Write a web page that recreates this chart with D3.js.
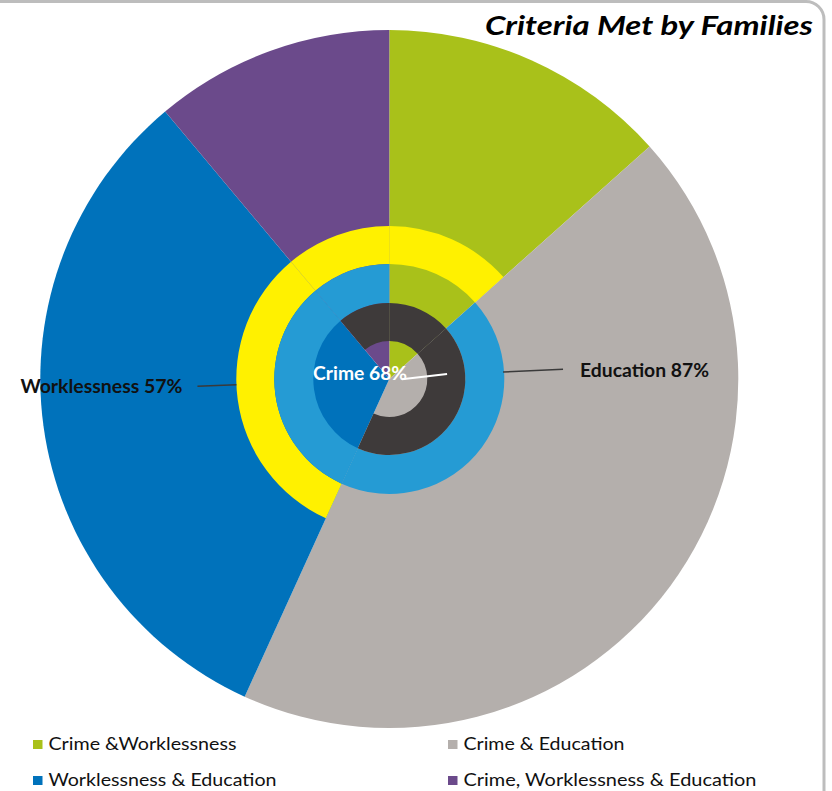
<!DOCTYPE html>
<html>
<head>
<meta charset="utf-8">
<script src="https://cdn.jsdelivr.net/npm/d3@7"></script>
<style>
  html, body { margin: 0; padding: 0; background: #fff; }
  svg { display: block; }
  text { font-family: Lato, "Open Sans", sans-serif; }
</style>
</head>
<body>
<svg id="chart" width="832" height="791"></svg>
<script>
// Share of families (%) by the combination of criteria they meet
const groups = ["Crime &Worklessness", "Crime & Education", "Worklessness & Education", "Crime, Worklessness & Education"];
const shares = [13.4, 43.4, 32.1, 11.1];

// Which criteria each group includes
const meetsWorklessness = [true, false, true, true];
const meetsEducation    = [false, true, true, true];
const meetsCrime        = [true, true, false, true];

const criteria = ["Worklessness", "Education", "Crime"];
const title = "Criteria Met by Families";

// ---- styling / layout ----
const groupColors = ["#a9c11a", "#b4afac", "#0072bb", "#6b4a8b"];
const ringStyles = [
  { member: meetsWorklessness, color: "#fff100", r0: 115, r1: 153 },
  { member: meetsEducation,    color: "#259bd4", r0: 76,  r1: 115 },
  { member: meetsCrime,        color: "#3e3a3a", r0: 38,  r1: 76 }
];
const cx = 389.3, cy = 379, R = 349;
const deg = Math.PI / 180;

const svg = d3.select("#chart");

// frame
svg.append("rect")
  .attr("x", -30).attr("y", 1.5)
  .attr("width", 854).attr("height", 900)
  .attr("rx", 18).attr("ry", 18)
  .attr("fill", "#fff")
  .attr("stroke", "#bdbdbd").attr("stroke-width", 3);

const g = svg.append("g").attr("transform", `translate(${cx},${cy})`);

const pie = d3.pie().sort(null).value(d => d);
const slices = pie(shares);

// outer pie: one wedge per group
g.append("g").selectAll("path")
  .data(slices)
  .join("path")
  .attr("d", d3.arc().innerRadius(0).outerRadius(R))
  .attr("fill", (d, i) => groupColors[i]);

// inner rings: a criterion ring covers every group that meets it
ringStyles.forEach(ring => {
  const arc = d3.arc().innerRadius(ring.r0).outerRadius(ring.r1);
  g.append("g").selectAll("path")
    .data(slices.filter((d, i) => ring.member[i]))
    .join("path")
    .attr("d", arc)
    .attr("fill", ring.color);
});

// totals per criterion
const totals = ringStyles.map(ring => d3.sum(shares.filter((v, i) => ring.member[i])));
const labelText = k => `${criteria[k]} ${Math.round(totals[k])}%`;

// label placement: leader from (a0,ra) to (a1,rb), text relative to leader end
const labelLayout = [
  { a0: 267.8, ra: 153, a1: 267.8, rb: 192,  dx: -15, dy: 7,   anchor: "end",   fill: "#111", line: "#3a3a3a", w: 162, size: 19 },
  { a0: 86.5,  ra: 114, a1: 86.8,  rb: 174,  dx: 17,  dy: 8,   anchor: "start", fill: "#111", line: "#3a3a3a", w: 129, size: 19 },
  { a0: 85,    ra: 58,  a1: 91,    rb: 12.5, dx: 5.3, dy: 1.2, anchor: "end",   fill: "#fff", line: "#fff",    w: 94,  size: 19 }
];

labelLayout.forEach((L, k) => {
  const p0 = d3.pointRadial(L.a0 * deg, L.ra);
  const p1 = d3.pointRadial(L.a1 * deg, L.rb);
  g.append("line")
    .attr("x1", p0[0]).attr("y1", p0[1])
    .attr("x2", p1[0]).attr("y2", p1[1])
    .attr("stroke", L.line).attr("stroke-width", k === 2 ? 2 : 1.5);
  g.append("text")
    .attr("x", p1[0] + L.dx).attr("y", p1[1] + L.dy)
    .attr("text-anchor", L.anchor)
    .attr("font-weight", 700)
    .attr("font-size", L.size)
    .attr("fill", L.fill)
    .attr("textLength", L.w)
    .attr("lengthAdjust", "spacingAndGlyphs")
    .text(labelText(k));
});

// title
svg.append("text")
  .attr("x", 813).attr("y", 35)
  .attr("text-anchor", "end")
  .attr("font-weight", 700)
  .attr("font-style", "italic")
  .attr("font-size", 27)
  .attr("fill", "#000")
  .attr("textLength", 328)
  .attr("lengthAdjust", "spacingAndGlyphs")
  .text(title);

// legend (two columns, two rows)
const legendCols = [33, 448], legendRows = [740, 776];
const legendWidths = [188, 161, 228, 293];
const legend = svg.append("g").selectAll("g")
  .data(groups)
  .join("g")
  .attr("transform", (d, i) => `translate(${legendCols[i % 2]},${legendRows[Math.floor(i / 2)]})`);
legend.append("rect")
  .attr("width", 9.5).attr("height", 9)
  .attr("fill", (d, i) => groupColors[i]);
legend.append("text")
  .attr("x", 15.5).attr("y", 9.8)
  .attr("font-size", 16.5)
  .attr("fill", "#111")
  .attr("textLength", (d, i) => legendWidths[i])
  .attr("lengthAdjust", "spacingAndGlyphs")
  .text(d => d);
</script>
</body>
</html>
